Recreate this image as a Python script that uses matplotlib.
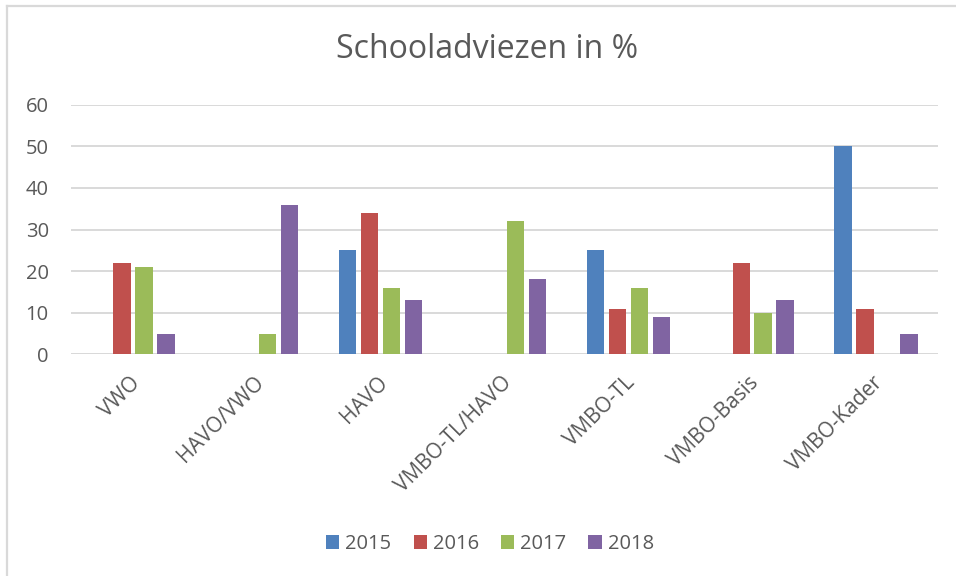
import matplotlib
matplotlib.use("Agg")
import matplotlib.pyplot as plt
import numpy as np
from matplotlib.lines import Line2D
from matplotlib.patches import Patch

categories = ["VWO", "HAVO/VWO", "HAVO", "VMBO-TL/HAVO", "VMBO-TL", "VMBO-Basis", "VMBO-Kader"]
years = ["2015", "2016", "2017", "2018"]
v2015 = [0, 0, 25, 0, 25, 0, 50]
v2016 = [22, 0, 34, 0, 11, 22, 11]
v2017 = [21, 5, 16, 32, 16, 10, 0]
v2018 = [5, 36, 13, 18, 9, 13, 5]
series = [v2015, v2016, v2017, v2018]
colors = ["#4F81BD", "#C0504D", "#9BBB59", "#8064A2"]
yticks = [0, 10, 20, 30, 40, 50, 60]

plt.rcParams['font.family'] = ['Open Sans', 'DejaVu Sans']
txt = "#595959"
grid = "#D9D9D9"

fig = plt.figure(figsize=(9.56, 5.76), dpi=100)
ax = fig.add_axes([71/956, 1-354.3/576, (938-71)/956, (354.3-104.7)/576])

x = np.arange(len(categories))
step = 0.177
width = 0.141
for i, (vals, c) in enumerate(zip(series, colors)):
    ax.bar(x + (i - 1.5) * step, vals, width=width, color=c, zorder=3)

ax.set_xlim(-0.5, len(categories) - 0.5)
ax.set_ylim(0, 60)
ax.set_yticks(yticks)
ax.set_yticklabels([str(t) for t in yticks], color=txt, fontsize=14.5)
ax.yaxis.grid(True, color=grid, linewidth=1.4, zorder=0)
ax.set_axisbelow(True)
for s in ax.spines.values():
    s.set_visible(False)
ax.axhline(0, color=grid, linewidth=1.4, zorder=2)
ax.tick_params(axis='both', length=0)
ax.tick_params(axis='y', pad=16)
ax.set_xticks(x - 0.03)
ax.set_xticklabels(categories, rotation=45, ha='right', rotation_mode='anchor',
                   color=txt, fontsize=15)
ax.tick_params(axis='x', pad=13)

fig.text(487/956, 1-50/576, "Schooladviezen in %", ha='center', va='center',
         fontsize=23, color=txt)

handles = [Patch(facecolor=c, edgecolor='none') for c in colors]
fig.legend(handles, years, loc='center', bbox_to_anchor=(490/956, 1-544/576),
           ncol=4, frameon=False, fontsize=14.5, labelcolor=txt,
           handlelength=0.65, handleheight=0.65, handletextpad=0.3, columnspacing=1.1)

# chart border (top & left visible)
fig.add_artist(Line2D([7/956, 7/956], [0, 1-6/576], transform=fig.transFigure, color=grid, linewidth=1.6))
fig.add_artist(Line2D([7/956, 1], [1-6/576, 1-6/576], transform=fig.transFigure, color=grid, linewidth=1.6))

fig.savefig("out.png", dpi=100)
